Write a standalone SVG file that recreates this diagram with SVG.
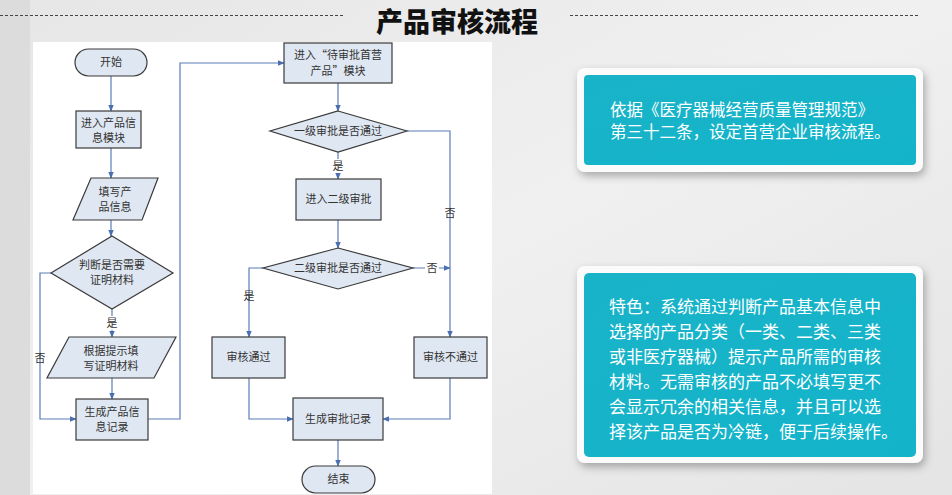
<svg xmlns="http://www.w3.org/2000/svg" width="952" height="495" viewBox="0 0 952 495">
<defs>
<marker id="ah" viewBox="0 0 10 10" refX="9" refY="5" markerWidth="7" markerHeight="7" markerUnits="userSpaceOnUse" orient="auto">
<path d="M0,1 L10,5 L0,9 Z" fill="#4a6fb0"/>
</marker>
<linearGradient id="bg" x1="0" y1="0" x2="1" y2="1">
<stop offset="0" stop-color="#e6e6e6"/>
<stop offset="0.5" stop-color="#f0f0f0"/>
<stop offset="1" stop-color="#e4e4e4"/>
</linearGradient>
<linearGradient id="teal" x1="0" y1="0" x2="1" y2="1">
<stop offset="0" stop-color="#19b3c8"/>
<stop offset="1" stop-color="#13b4ca"/>
</linearGradient>
<filter id="sh" x="-10%" y="-10%" width="125%" height="135%">
<feDropShadow dx="2" dy="4" stdDeviation="4" flood-color="#000" flood-opacity="0.3"/>
</filter>
</defs>
<style>
.nd{fill:#dfe7f2;stroke:#3a3a3a;stroke-width:1.2}
.t{font-family:"Noto Sans CJK SC","Noto Sans",sans-serif;font-size:11px;fill:#333;text-anchor:middle}
.ln{fill:none;stroke:#5b7cb8;stroke-width:1.2}
.w{font-family:"Noto Sans CJK SC","Noto Sans",sans-serif;fill:#fff}
.dash{stroke:#444;stroke-width:1;stroke-dasharray:3 2}
</style>
<rect width="952" height="495" fill="url(#bg)"/>
<rect x="0" y="0" width="30" height="495" fill="#dcdcdc"/>
<line class="dash" x1="0" y1="15.5" x2="343" y2="15.5"/>
<line class="dash" x1="570" y1="15.5" x2="918" y2="15.5"/>
<text x="457" y="32" text-anchor="middle" font-family="'Noto Sans CJK SC',sans-serif" font-size="27" font-weight="900" fill="#111">产品审核流程</text>
<rect x="33" y="42" width="459" height="452" fill="#ffffff"/>

<g id="connectors">
<line class="ln" x1="111" y1="76" x2="111" y2="111" marker-end="url(#ah)"/>
<line class="ln" x1="111" y1="148" x2="111" y2="178" marker-end="url(#ah)"/>
<line class="ln" x1="111" y1="220" x2="111" y2="236" marker-end="url(#ah)"/>
<line class="ln" x1="112" y1="309" x2="112" y2="337" marker-end="url(#ah)"/>
<line class="ln" x1="112" y1="378" x2="112" y2="399" marker-end="url(#ah)"/>
<polyline class="ln" points="51,273 40,273 40,419 76,419" marker-end="url(#ah)"/>
<polyline class="ln" points="148,419 180,419 180,63 284,63" marker-end="url(#ah)"/>
<line class="ln" x1="338" y1="83" x2="338" y2="111" marker-end="url(#ah)"/>
<line class="ln" x1="338" y1="152" x2="338" y2="179" marker-end="url(#ah)"/>
<line class="ln" x1="338" y1="220" x2="338" y2="248" marker-end="url(#ah)"/>
<polyline class="ln" points="407,131 450,131 450,337" marker-end="url(#ah)"/>
<line class="ln" x1="413" y1="268" x2="450" y2="268" marker-end="url(#ah)"/>
<polyline class="ln" points="263,268 249,268 249,337" marker-end="url(#ah)"/>
<polyline class="ln" points="249,378 249,419 293,419" marker-end="url(#ah)"/>
<polyline class="ln" points="450,378 450,419 383,419" marker-end="url(#ah)"/>
<line class="ln" x1="338" y1="440" x2="338" y2="466" marker-end="url(#ah)"/>
<rect x="102" y="316" width="20" height="14" fill="#fff"/>
<text class="t" x="112" y="327">是</text>
<rect x="329" y="159" width="18" height="14" fill="#fff"/>
<text class="t" x="338" y="170">是</text>
<text class="t" x="249" y="300">是</text>
<text class="t" x="40" y="362">否</text>
<text class="t" x="450" y="217">否</text>
<rect x="425" y="262" width="14" height="13" fill="#fff"/>
<text class="t" x="432" y="272">否</text>
</g>

<g id="start"><rect class="nd" x="75" y="49" width="72" height="27" rx="13.5"/><text class="t" x="111" y="66">开始</text></g>
<g id="enter-product"><rect class="nd" x="76" y="111" width="65" height="37"/><text class="t" x="108.5" y="127">进入产品信</text><text class="t" x="108.5" y="142">息模块</text></g>
<g id="fill-info"><polygon class="nd" points="91,178 158,178 142,220 73,220"/><text class="t" x="115" y="196">填写产</text><text class="t" x="115" y="211">品信息</text></g>
<g id="judge"><polygon class="nd" points="112,236 173,273 112,309 51,273"/><text class="t" x="112" y="269">判断是否需要</text><text class="t" x="112" y="284">证明材料</text></g>
<g id="fill-proof"><polygon class="nd" points="69,337 176,337 154,378 47,378"/><text class="t" x="111" y="355">根据提示填</text><text class="t" x="111" y="370">写证明材料</text></g>
<g id="gen-product"><rect class="nd" x="76" y="399" width="72" height="41"/><text class="t" x="112" y="416">生成产品信</text><text class="t" x="112" y="431">息记录</text></g>
<g id="pending"><rect class="nd" x="284" y="43" width="108" height="40"/><text class="t" x="338" y="59">进入“待审批首营</text><text class="t" x="338" y="75">产品”模块</text></g>
<g id="level1"><polygon class="nd" points="338,111 407,131 338,152 270,131"/><text class="t" x="338" y="135">一级审批是否通过</text></g>
<g id="enter-level2"><rect class="nd" x="296" y="179" width="85" height="41"/><text class="t" x="338.5" y="203">进入二级审批</text></g>
<g id="level2"><polygon class="nd" points="338,248 413,268 338,289 263,268"/><text class="t" x="338" y="272">二级审批是否通过</text></g>
<g id="pass"><rect class="nd" x="212" y="337" width="73" height="41"/><text class="t" x="248.5" y="361">审核通过</text></g>
<g id="fail"><rect class="nd" x="414" y="337" width="73" height="41"/><text class="t" x="450.5" y="361">审核不通过</text></g>
<g id="gen-approval"><rect class="nd" x="293" y="398" width="90" height="42"/><text class="t" x="338" y="423">生成审批记录</text></g>
<g id="end"><rect class="nd" x="302" y="466" width="73" height="27" rx="13.5"/><text class="t" x="338.5" y="483">结束</text></g>

<g id="note1">
<rect x="577" y="68" width="346" height="104" rx="8" fill="#fbfbfb" filter="url(#sh)"/>
<rect x="584" y="75" width="332" height="90" rx="4" fill="url(#teal)"/>
<text class="w" font-size="16.5" x="610" y="116">依据《医疗器械经营质量管理规范》</text>
<text class="w" font-size="16.5" x="610" y="138">第三十二条，设定首营企业审核流程。</text>
</g>
<g id="note2">
<rect x="577" y="266" width="346" height="197" rx="8" fill="#fbfbfb" filter="url(#sh)"/>
<rect x="584" y="273" width="332" height="184" rx="5" fill="url(#teal)"/>
<text class="w" font-size="17" x="609" y="313">特色：系统通过判断产品基本信息中</text>
<text class="w" font-size="17" x="609" y="338">选择的产品分类（一类、二类、三类</text>
<text class="w" font-size="17" x="609" y="363">或非医疗器械）提示产品所需的审核</text>
<text class="w" font-size="17" x="609" y="388">材料。无需审核的产品不必填写更不</text>
<text class="w" font-size="17" x="609" y="413">会显示冗余的相关信息，并且可以选</text>
<text class="w" font-size="17" x="609" y="438">择该产品是否为冷链，便于后续操作。</text>
</g>
</svg>
